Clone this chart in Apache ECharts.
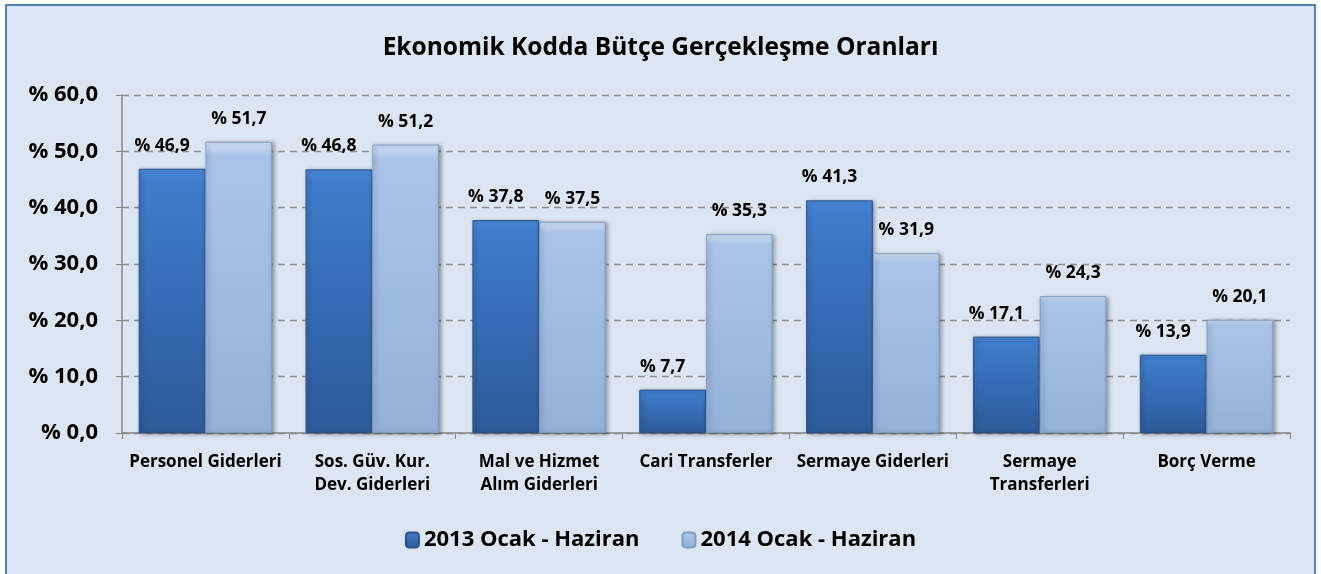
<!DOCTYPE html>
<html>
<head>
<meta charset="utf-8">
<script src="https://cdn.jsdelivr.net/npm/echarts@6/dist/echarts.min.js"></script>
<style>
  html, body { margin: 0; padding: 0; background: #fff; }
  #main { width: 1321px; height: 574px; }
</style>
</head>
<body>
<div id="main"></div>
<script>
var categories = [
    "Personel Giderleri",
    "Sos. Güv. Kur.\nDev. Giderleri",
    "Mal ve Hizmet\nAlım Giderleri",
    "Cari Transferler",
    "Sermaye Giderleri",
    "Sermaye\nTransferleri",
    "Borç Verme"
];
var values2013 = [46.9, 46.8, 37.8, 7.7, 41.3, 17.1, 13.9];
var values2014 = [51.7, 51.2, 37.5, 35.3, 31.9, 24.3, 20.1];
var seriesNames = ["2013 Ocak - Haziran", "2014 Ocak - Haziran"];

var font = "'Open Sans', sans-serif";

function fmt(v) {
    return "% " + v.toFixed(1).replace(".", ",");
}

var myChart = echarts.init(document.getElementById("main"));

var option = {
    backgroundColor: "#ffffff",
    graphic: [
        {
            type: "rect",
            z: -10,
            shape: { x: 6, y: 5, width: 1309, height: 572 },
            style: { fill: "#dce6f2", stroke: "#4f81bd", lineWidth: 2 }
        }
    ],
    title: {
        text: "Ekonomik Kodda Bütçe Gerçekleşme Oranları",
        left: "center",
        top: 31,
        textStyle: { fontFamily: font, fontWeight: "bold", fontSize: 24.5, color: "#000" }
    },
    legend: {
        bottom: 18,
        left: "center",
        itemWidth: 13,
        itemHeight: 15,
        itemGap: 42,
        textStyle: { fontFamily: font, fontWeight: "bold", fontSize: 22, color: "#000" },
        data: seriesNames
    },
    grid: {
        left: 122,
        right: 31,
        top: 95,
        bottom: 141
    },
    xAxis: {
        type: "category",
        data: categories,
        axisLine: { lineStyle: { color: "#868686", width: 1.5 } },
        axisTick: { show: true, alignWithLabel: false, length: 6, lineStyle: { color: "#868686" } },
        axisLabel: {
            interval: 0,
            margin: 18,
            lineHeight: 23,
            fontFamily: font,
            fontWeight: "bold",
            fontSize: 17,
            color: "#000"
        }
    },
    yAxis: {
        type: "value",
        min: 0,
        max: 60,
        interval: 10,
        axisLine: { show: true, lineStyle: { color: "#868686", width: 1.5 } },
        axisTick: { show: true, length: 6, lineStyle: { color: "#868686" } },
        splitLine: { lineStyle: { color: "#8c8c8c", type: [7, 5], width: 1.3 } },
        axisLabel: {
            margin: 24,
            formatter: function (v) { return fmt(v); },
            fontFamily: font,
            fontWeight: "bold",
            fontSize: 22,
            color: "#000"
        }
    },
    series: [
        {
            name: seriesNames[0],
            type: "bar",
            barGap: "0%",
            barCategoryGap: "20%",
            data: values2013,
            itemStyle: {
                color: new echarts.graphic.LinearGradient(0, 0, 0, 1, [
                    { offset: 0, color: "#4a89dc" },
                    { offset: 0.05, color: "#3f7ccb" },
                    { offset: 1, color: "#2d5a99" }
                ]),
                borderColor: "#2a5088",
                borderWidth: 1,
                shadowColor: "rgba(0,0,0,0.35)",
                shadowBlur: 4,
                shadowOffsetX: 2,
                shadowOffsetY: 1
            },
            label: {
                show: true,
                position: "top",
                distance: 14,
                offset: [-10, 0],
                formatter: function (p) { return fmt(p.value); },
                fontFamily: font,
                fontWeight: "bold",
                fontSize: 17.5,
                color: "#000"
            }
        },
        {
            name: seriesNames[1],
            type: "bar",
            data: values2014,
            itemStyle: {
                color: new echarts.graphic.LinearGradient(0, 0, 0, 1, [
                    { offset: 0, color: "#d2e2f6" },
                    { offset: 0.05, color: "#a9c4e8" },
                    { offset: 1, color: "#93b1d8" }
                ]),
                borderColor: "#7f9cc4",
                borderWidth: 1,
                shadowColor: "rgba(0,0,0,0.35)",
                shadowBlur: 4,
                shadowOffsetX: 2,
                shadowOffsetY: 1
            },
            label: {
                show: true,
                position: "top",
                distance: 14,
                formatter: function (p) { return fmt(p.value); },
                fontFamily: font,
                fontWeight: "bold",
                fontSize: 17.5,
                color: "#000"
            }
        }
    ]
};

myChart.setOption(option);
</script>
</body>
</html>
